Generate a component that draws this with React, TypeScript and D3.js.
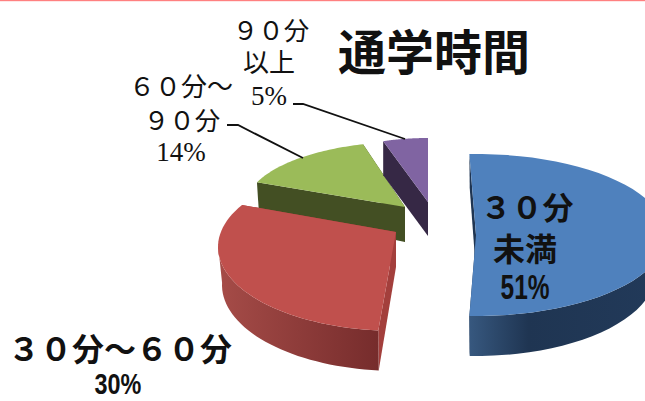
import React from "react";
import * as d3 from "d3";

const categories = ["３０分未満", "３０分～６０分", "６０分～９０分", "９０分以上"];
const shares = [51, 30, 14, 5];
const percentLabels = ["51%", "30%", "14%", "5%"];
const topColors = ["#4f81bd", "#c0504d", "#9bbb59", "#8064a2"];
const title = "通学時間";

type Geo = {
  cx: number; cy: number; rx: number; ry: number;
  ax: number; ay: number; ab: number;
  bcx: number; bcy: number; brx: number; bry: number;
  s: number; e: number; inner: string; sideA: string; sideB: string;
};
// hand-tuned projection of each exploded slice (degrees adjust the pie angles for perspective)
const geometry: Geo[] = [
  { cx: 476, cy: 235, rx: 190, ry: 81, ax: 476, ay: 235, ab: 272, bcx: 476, bcy: 272, brx: 180, bry: 84, s: -2, e: -1.6, inner: "#1f3552", sideA: "#37587f", sideB: "#1f3552" },
  { cx: 397, cy: 247, rx: 179, ry: 84, ax: 396, ay: 232, ab: 267, bcx: 397, bcy: 285, brx: 175, bry: 86, s: 2.4, e: 8.4, inner: "#a33f3c", sideA: "#a64c48", sideB: "#762c2c" },
  { cx: 405, cy: 207, rx: 160, ry: 65, ax: 405, ay: 207, ab: 242, bcx: 405, bcy: 236, brx: 158, bry: 65, s: 0.7, e: 2.8, inner: "#434f23", sideA: "#434f23", sideB: "#434f23" },
  { cx: 428, cy: 202, rx: 145, ry: 64, ax: 428, ay: 202, ab: 236, bcx: 428, bcy: 236, brx: 145, bry: 64, s: 0, e: 0, inner: "#362845", sideA: "#362845", sideB: "#362845" },
];

const deg = (r: number) => (r * 180) / Math.PI;
const rad = d3.scaleLinear().domain([0, 360]).range([0, 2 * Math.PI]);
const line = d3.line<[number, number]>().curve(d3.curveLinear);

function rim(cx: number, cy: number, rx: number, ry: number, a0: number, a1: number): [number, number][] {
  const n = 48;
  return d3.range(n + 1).map((i) => {
    const a = rad(a0 + ((a1 - a0) * i) / n);
    return [cx + rx * Math.sin(a), cy - ry * Math.cos(a)] as [number, number];
  });
}

const pieAngles = d3.pie<number>().sort(null).value((d) => d)(shares);

function Slice({ i }: { i: number }) {
  const g = geometry[i];
  const p = pieAngles[i];
  const a0 = deg(p.startAngle) + g.s;
  const a1 = deg(p.endAngle) + g.e;
  const topRim = rim(g.cx, g.cy, g.rx, g.ry, a0, a1);
  const botRim = rim(g.bcx, g.bcy, g.brx, g.bry, a0, a1);
  const top: [number, number][] = [[g.ax, g.ay], ...topRim];
  // outer wall: only the forward-facing part of the rim
  const frontTop = topRim.filter((_, k) => Math.cos(rad(a0 + ((a1 - a0) * k) / 48)) < 0.05);
  const frontBot = botRim.filter((_, k) => Math.cos(rad(a0 + ((a1 - a0) * k) / 48)) < 0.05);
  const outer = frontTop.length > 1 ? [...frontTop, ...frontBot.slice().reverse()] : [];
  const wallStart: [number, number][] = [[g.ax, g.ay], [g.ax, g.ab], botRim[0], topRim[0]];
  const wallEnd: [number, number][] = [[g.ax, g.ay], [g.ax, g.ab], botRim[48], topRim[48]];
  return (
    <g>
      <defs>
        <linearGradient id={`side${i}`} gradientUnits="objectBoundingBox" x1="0" x2="1" y1="0" y2="0">
          <stop offset="0" stopColor={g.sideA} />
          <stop offset="1" stopColor={g.sideB} />
        </linearGradient>
      </defs>
      <path d={line(wallEnd) + "Z"} fill={g.inner} />
      <path d={line(wallStart) + "Z"} fill={g.inner} />
      {outer.length > 0 && (
        <path d={line(outer) + "Z"} fill={i === 0 ? "url(#blueSide)" : `url(#side${i})`} />
      )}
      <path d={line(top) + "Z"} fill={topColors[i]} />
    </g>
  );
}

const sans = "'Noto Sans CJK JP', 'Noto Sans', sans-serif";
const serif = "'Liberation Serif', 'Noto Sans CJK JP', serif";
const latinBold = "'Liberation Sans', sans-serif";

function T(props: any) {
  const { x, y, size, bold, family, children, sx = 1, sy = 1 } = props;
  return (
    <text
      transform={`translate(${x},${y}) scale(${sx},${sy})`}
      fontSize={size} textAnchor="middle" dominantBaseline="central"
      fontWeight={bold ? 700 : 400} fontFamily={family || sans} fill="#111"
    >
      {children}
    </text>
  );
}

export default function App() {
  const order = [2, 3, 1, 0];
  return (
    <svg width={645} height={401} viewBox="0 0 645 401" style={{ position: "absolute", left: 0, top: 0, display: "block", background: "#fff" }}>
      <defs>
        <linearGradient id="blueSide" x1="0" x2="1" y1="0" y2="0">
          <stop offset="0" stopColor="#37587f" />
          <stop offset="0.3" stopColor="#1f3552" />
          <stop offset="1" stopColor="#223a5a" />
        </linearGradient>
      </defs>
      <rect x={0} y={0} width={645} height={1.2} fill="#ff8080" />
      <g>
        {order.map((i) => <Slice key={categories[i]} i={i} />)}
      </g>
      <polyline points="293,104 303,104 405,139" fill="none" stroke="#111" strokeWidth={1.8} />
      <polyline points="227,125 238,125 303,158" fill="none" stroke="#111" strokeWidth={1.8} />

      <T x={434} y={49} size={48} bold>{title}</T>

      <T x={271} y={28} size={25.5}>９０分</T>
      <T x={269} y={60} size={26}>以上</T>
      <T x={269} y={96} size={27} family={serif}>{percentLabels[3]}</T>

      <T x={181} y={84} size={26}>６０分～</T>
      <T x={182} y={118} size={25.5}>９０分</T>
      <T x={181} y={152} size={27} family={serif}>{percentLabels[2]}</T>

      <T x={527} y={205} size={31} bold>３０分</T>
      <T x={525} y={247} size={32} bold>未満</T>
      <T x={525} y={287} size={26} bold family={latinBold} sx={0.94} sy={1.35}>{percentLabels[0]}</T>

      <T x={120} y={347} size={32} bold>３０分～６０分</T>
      <T x={118} y={384} size={26} bold family={latinBold} sx={0.9} sy={1.1}>{percentLabels[1]}</T>
    </svg>
  );
}
